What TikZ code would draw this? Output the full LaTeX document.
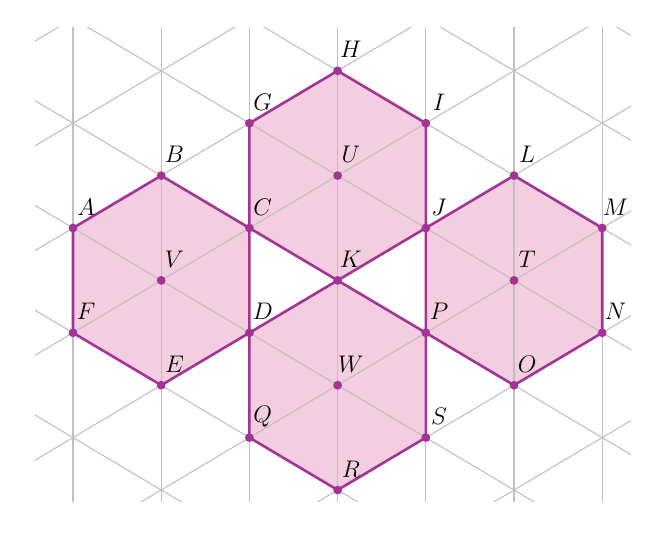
\documentclass[tikz,border=0pt]{standalone}
\usetikzlibrary{calc}
\definecolor{hexfill}{RGB}{242,206,224}
\definecolor{hexline}{RGB}{163,52,150}
\definecolor{gridgray}{RGB}{192,192,192}
\tikzset{
  gridline/.style={draw=gridgray, line width=0.55pt},
  hexagon/.style={draw=hexline, line width=1.3pt, line join=round},
  hexarea/.style={fill=hexfill},
  ptdot/.style={circle, fill=hexline, inner sep=0pt, minimum size=4.4pt},
  ptlabel/.style={font=\fontsize{12}{14}\selectfont, inner sep=0pt}
}
\begin{document}
\begin{tikzpicture}[x=44.1pt, y=-26.2pt]
\useasboundingbox (-0.8277,-4.351) rectangle (6.757,5.840);
% points
\coordinate (A) at (0,0);
\coordinate (B) at (1,-1);
\coordinate (V) at (1,1);
\coordinate (F) at (0,2);
\coordinate (E) at (1,3);
\coordinate (C) at (2,0);
\coordinate (D) at (2,2);
\coordinate (G) at (2,-2);
\coordinate (H) at (3,-3);
\coordinate (I) at (4,-2);
\coordinate (U) at (3,-1);
\coordinate (J) at (4,0);
\coordinate (K) at (3,1);
\coordinate (L) at (5,-1);
\coordinate (M) at (6,0);
\coordinate (T) at (5,1);
\coordinate (N) at (6,2);
\coordinate (O) at (5,3);
\coordinate (P) at (4,2);
\coordinate (W) at (3,3);
\coordinate (Q) at (2,4);
\coordinate (R) at (3,5);
\coordinate (S) at (4,4);
% fills
\fill[hexarea] (A) -- (B) -- (C) -- (D) -- (E) -- (F) -- cycle;
\fill[hexarea] (G) -- (H) -- (I) -- (J) -- (K) -- (C) -- cycle;
\fill[hexarea] (J) -- (L) -- (M) -- (N) -- (O) -- (P) -- cycle;
\fill[hexarea] (K) -- (P) -- (S) -- (R) -- (Q) -- (D) -- cycle;
% grid
\begin{scope}
\clip (-0.431,-3.817) rectangle (6.327,5.21);
\foreach \i in {0,...,6} \draw[gridline] (\i,-5) -- (\i,7);
\foreach \c in {-8,-6,...,14} \draw[gridline] (-2,\c+2) -- (9,\c-9);
\foreach \c in {-8,-6,...,14} \draw[gridline] (-2,-\c-2) -- (9,9-\c);
\end{scope}
% borders
\draw[hexagon] (A) -- (B) -- (C) -- (D) -- (E) -- (F) -- cycle;
\draw[hexagon] (G) -- (H) -- (I) -- (J) -- (K) -- (C) -- cycle;
\draw[hexagon] (J) -- (L) -- (M) -- (N) -- (O) -- (P) -- cycle;
\draw[hexagon] (K) -- (P) -- (S) -- (R) -- (Q) -- (D) -- cycle;
% dots and labels
\foreach \p in {A,B,C,D,E,F,G,H,I,J,K,L,M,N,O,P,Q,R,S,T,U,V,W} {
  \node[ptdot] (dot\p) at (\p) {};
  \node[ptlabel] (lab\p) at ($(\p)+(6.6pt,10.6pt)$) {$\p$};
}
\end{tikzpicture}
\end{document}
